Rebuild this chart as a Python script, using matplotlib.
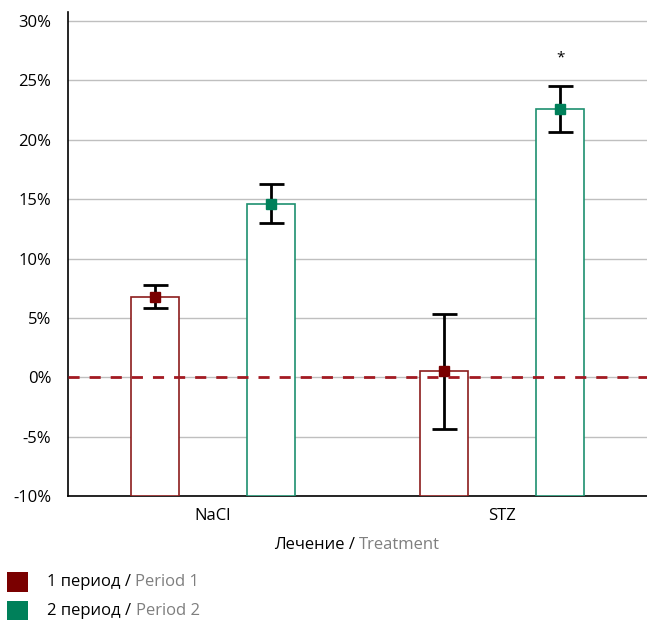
import matplotlib
matplotlib.use("Agg")
import matplotlib.pyplot as plt
from matplotlib.patches import Rectangle
from matplotlib.ticker import FuncFormatter

# Change in the measured parameter, % (mean and error)
groups = ["NaCl", "STZ"]
period1_mean = [6.8, 0.5]
period1_err = [1.0, 4.85]
period2_mean = [14.6, 22.6]
period2_err = [1.65, 1.95]
significant = [False, True]  # marked with * above period 2

y_ticks = [-10, -5, 0, 5, 10, 15, 20, 25, 30]
series_ru = ["1 период", "2 период"]
series_en = ["Period 1", "Period 2"]
xlabel_ru = "Лечение"
xlabel_en = "Treatment"

RED = "#7a0000"
RED_EDGE = "#8c1c1c"
GREEN = "#00805a"
GREEN_EDGE = "#1e9070"
GREY_TEXT = "#7f7f7f"
FS = 12

plt.rcParams["font.family"] = ["Open Sans", "DejaVu Sans"]

W, H = 647, 620
fig = plt.figure(figsize=(W / 100, H / 100), dpi=100)
ax = fig.add_axes([68 / W, 124 / H, 579 / W, 484 / H])

y_min = -10
x = list(range(len(groups)))
offset = 0.2
width = 0.166

for i, xi in enumerate(x):
    for dx, mean, err, face, edge in [
        (-offset, period1_mean[i], period1_err[i], RED, RED_EDGE),
        (offset, period2_mean[i], period2_err[i], GREEN, GREEN_EDGE),
    ]:
        ax.bar(xi + dx, mean - y_min, bottom=y_min, width=width,
               facecolor="white", edgecolor=edge, linewidth=1.2, zorder=3)
        ax.errorbar(xi + dx, mean, yerr=err, fmt="none", ecolor="black",
                    elinewidth=2, capsize=9, capthick=2, zorder=4)
        ax.plot(xi + dx, mean, marker="s", markersize=7, color=face,
                linestyle="none", zorder=5)
    if significant[i]:
        ax.text(xi + offset, period2_mean[i] + period2_err[i] + 2.3, "*",
                ha="center", va="center", fontsize=11)

# reference line at zero
ax.axhline(0, color="#a31a22", linewidth=2, dashes=(4, 3.6), zorder=6)

ax.set_xlim(-0.5, 1.5)
ax.set_ylim(y_min, 30.76)
ax.set_yticks(y_ticks)
ax.yaxis.set_major_formatter(FuncFormatter(lambda v, _: f"{v:.0f}%"))
ax.set_xticks(x)
ax.set_xticklabels(groups)
ax.tick_params(axis="both", length=0, labelsize=FS)
ax.tick_params(axis="y", pad=12)
ax.tick_params(axis="x", pad=9)
ax.grid(axis="y", color="#bfbfbf", linewidth=1, zorder=0)
ax.set_axisbelow(True)
for side in ["top", "right"]:
    ax.spines[side].set_visible(False)
for side in ["left", "bottom"]:
    ax.spines[side].set_color("black")
    ax.spines[side].set_linewidth(1.2)

fig.canvas.draw()
renderer = fig.canvas.get_renderer()


def two_tone(x_px, y_px, black, grey, center=False):
    """Place 'black / grey' text at pixel position measured from the top."""
    yf = (H - y_px) / H
    a = fig.text(0, yf, f"{black} / ", fontsize=FS, va="center", ha="left")
    b = fig.text(0, yf, grey, fontsize=FS, va="center", ha="left",
                 color=GREY_TEXT)
    wa = a.get_window_extent(renderer).width
    wb = b.get_window_extent(renderer).width
    x0 = x_px - (wa + wb) / 2 if center else x_px
    a.set_x(x0 / W)
    b.set_x((x0 + wa) / W)


# axis title: Russian in black, English in grey
two_tone(357, 545, xlabel_ru, xlabel_en, center=True)

# legend below the axes
for k, (ru, en, col) in enumerate(zip(series_ru, series_en, [RED, GREEN])):
    y_px = 582 + 29 * k
    fig.patches.append(Rectangle((7 / W, (H - y_px - 10) / H), 21 / W, 20 / H,
                                 transform=fig.transFigure, facecolor=col,
                                 edgecolor="none"))
    two_tone(47, y_px, ru, en)

fig.savefig("out.png", dpi=100)
